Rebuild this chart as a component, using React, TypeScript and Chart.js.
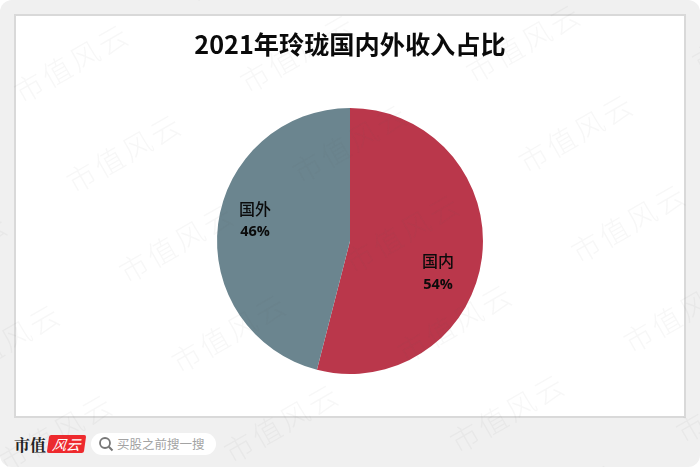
import React, { useEffect, useRef } from "react";
import { Chart, registerables } from "chart.js";

Chart.register(...registerables);

const titleText = "2021年玲珑国内外收入占比";
const categories = ["国内", "国外"];
const shares = [54, 46];
const sliceColors = ["#BA374B", "#6B858F"];
const watermarkText = "市值风云";

const CJK = '"Noto Sans CJK SC", sans-serif';

const sliceLabels = {
  id: "sliceLabels",
  afterDatasetsDraw(chart: any) {
    const { ctx } = chart;
    const offsets = [[22, 23], [-29, -13]];
    const arcs = chart.getDatasetMeta(0).data;
    ctx.save();
    ctx.fillStyle = "#0b0b0b";
    ctx.textAlign = "center";
    ctx.textBaseline = "middle";
    arcs.forEach((arc: any, i: number) => {
      const c = arc.getCenterPoint();
      const x = c.x + offsets[i][0];
      const y = c.y + offsets[i][1];
      ctx.font = `500 16px ${CJK}`;
      ctx.fillText(categories[i], x, y - 11);
      ctx.font = `bold 14.5px "Open Sans", ${CJK}`;
      ctx.fillText(`${shares[i]}%`, x, y + 12.5);
    });
    ctx.restore();
  },
};

const watermarks = {
  id: "watermarks",
  afterDraw(chart: any) {
    const { ctx } = chart;
    ctx.save();
    ctx.font = `300 29px ${CJK}`;
    ctx.textAlign = "center";
    ctx.textBaseline = "middle";
    for (let col = -2; col <= 4; col++) {
      for (let row = -3; row <= 6; row++) {
        const x = 72 + col * 226 + row * 52.5;
        const y = 63 - col * 10 + row * 90;
        ctx.save();
        ctx.translate(x, y);
        ctx.rotate((-30 * Math.PI) / 180);
        ctx.fillStyle = "rgba(90,90,90,0.05)";
        ctx.letterSpacing = "3px";
        ctx.fillText(watermarkText, 0, 0);
        ctx.restore();
      }
    }
    ctx.restore();
  },
};

export default function App() {
  const ref = useRef<HTMLCanvasElement>(null);
  useEffect(() => {
    const chart = new Chart(ref.current!, {
      type: "pie",
      data: {
        labels: categories,
        datasets: [
          {
            data: shares,
            backgroundColor: sliceColors,
            borderWidth: 0,
          },
        ],
      },
      options: {
        animation: false,
        responsive: false,
        layout: { padding: { top: 0, bottom: 93, left: 0, right: 0 } },
        plugins: {
          legend: { display: false },
          tooltip: { enabled: false },
          title: {
            display: true,
            text: titleText,
            color: "#0a0a0a",
            font: { family: CJK, size: 25.2, weight: "bold", lineHeight: 1.2 },
            padding: { top: 29.5, bottom: 48.3 },
          },
        },
      },
      plugins: [sliceLabels, watermarks],
    });
    return () => chart.destroy();
  }, []);

  return (
    <div style={{ position: "fixed", left: 0, top: 0, width: 700, height: 467, background: "#fff", overflow: "hidden" }}>
      <div style={{ position: "absolute", inset: 0, background: "#f0f0f0", borderRadius: 12 }} />
      <div
        style={{
          position: "absolute",
          left: 14,
          top: 14,
          width: 668,
          height: 400,
          background: "#fff",
          border: "2px solid #d9d9d9",
        }}
      />
      <div
        style={{
          position: "absolute",
          left: 14,
          top: 433,
          fontFamily: '"Noto Serif CJK SC", "Noto Sans CJK SC", serif',
          fontWeight: 700,
          fontSize: 16,
          lineHeight: "24px",
          color: "#222",
        }}
      >
        市值
      </div>
      <div
        style={{
          position: "absolute",
          left: 48,
          top: 435,
          width: 37,
          height: 18,
          background: "#ee2a2e",
          borderRadius: 2,
          transform: "skewX(-8deg)",
          color: "#fff",
          fontFamily: CJK,
          fontStyle: "italic",
          fontSize: 14,
          lineHeight: "18px",
          textAlign: "center",
        }}
      >
        风云
      </div>
      <div
        style={{
          position: "absolute",
          left: 91,
          top: 433,
          width: 125,
          height: 22,
          background: "#fff",
          borderRadius: 11,
        }}
      >
        <svg width="16" height="16" viewBox="0 0 16 16" style={{ position: "absolute", left: 7, top: 3 }}>
          <circle cx="7" cy="7" r="5" fill="none" stroke="#777" strokeWidth="1.8" />
          <line x1="10.8" y1="10.8" x2="14.5" y2="14.5" stroke="#777" strokeWidth="2" />
        </svg>
        <span
          style={{
            position: "absolute",
            left: 26,
            top: 0,
            fontFamily: CJK,
            fontSize: 12.5,
            lineHeight: "22px",
            color: "#a3a3a3",
            whiteSpace: "nowrap",
          }}
        >
          买股之前搜一搜
        </span>
      </div>
      <canvas ref={ref} width={700} height={467} style={{ position: "absolute", left: 0, top: 0 }} />
    </div>
  );
}
